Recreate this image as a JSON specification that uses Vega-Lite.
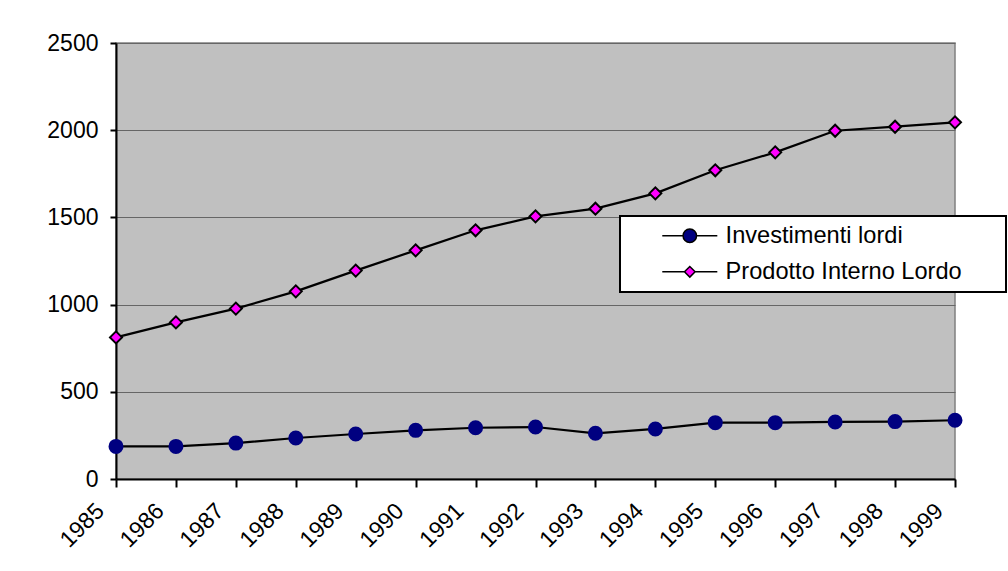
{
  "$schema": "https://vega.github.io/schema/vega-lite/v6.json",
  "width": 839,
  "height": 436,
  "autosize": "none",
  "padding": {"left": 116, "top": 43, "right": 53, "bottom": 92},
  "background": "white",
  "config": {
    "font": "Liberation Sans",
    "view": {"fill": "#C0C0C0", "stroke": "#808080", "strokeWidth": 1.5},
    "legend": {
      "title": null,
      "orient": "none",
      "legendX": 504,
      "legendY": 173,
      "fillColor": "white",
      "strokeColor": "black",
      "strokeWidth": 2,
      "padding": 8,
      "cornerRadius": 0,
      "labelFontSize": 23.6,
      "labelColor": "black",
      "labelLimit": 500,
      "symbolSize": 225,
      "symbolOffset": 50,
      "labelOffset": 24,
      "rowPadding": 11,
      "symbolOpacity": 1
    }
  },
  "data": {
    "values": [
      {"anno": "1985", "serie": "Investimenti lordi", "valore": 187},
      {"anno": "1986", "serie": "Investimenti lordi", "valore": 187},
      {"anno": "1987", "serie": "Investimenti lordi", "valore": 206},
      {"anno": "1988", "serie": "Investimenti lordi", "valore": 235},
      {"anno": "1989", "serie": "Investimenti lordi", "valore": 258},
      {"anno": "1990", "serie": "Investimenti lordi", "valore": 279},
      {"anno": "1991", "serie": "Investimenti lordi", "valore": 294},
      {"anno": "1992", "serie": "Investimenti lordi", "valore": 298},
      {"anno": "1993", "serie": "Investimenti lordi", "valore": 262},
      {"anno": "1994", "serie": "Investimenti lordi", "valore": 287},
      {"anno": "1995", "serie": "Investimenti lordi", "valore": 323},
      {"anno": "1996", "serie": "Investimenti lordi", "valore": 323},
      {"anno": "1997", "serie": "Investimenti lordi", "valore": 327},
      {"anno": "1998", "serie": "Investimenti lordi", "valore": 329},
      {"anno": "1999", "serie": "Investimenti lordi", "valore": 337},
      {"anno": "1985", "serie": "Prodotto Interno Lordo", "valore": 812},
      {"anno": "1986", "serie": "Prodotto Interno Lordo", "valore": 898},
      {"anno": "1987", "serie": "Prodotto Interno Lordo", "valore": 977},
      {"anno": "1988", "serie": "Prodotto Interno Lordo", "valore": 1076},
      {"anno": "1989", "serie": "Prodotto Interno Lordo", "valore": 1195},
      {"anno": "1990", "serie": "Prodotto Interno Lordo", "valore": 1311},
      {"anno": "1991", "serie": "Prodotto Interno Lordo", "valore": 1426},
      {"anno": "1992", "serie": "Prodotto Interno Lordo", "valore": 1506},
      {"anno": "1993", "serie": "Prodotto Interno Lordo", "valore": 1550},
      {"anno": "1994", "serie": "Prodotto Interno Lordo", "valore": 1638},
      {"anno": "1995", "serie": "Prodotto Interno Lordo", "valore": 1770},
      {"anno": "1996", "serie": "Prodotto Interno Lordo", "valore": 1873},
      {"anno": "1997", "serie": "Prodotto Interno Lordo", "valore": 1997},
      {"anno": "1998", "serie": "Prodotto Interno Lordo", "valore": 2020},
      {"anno": "1999", "serie": "Prodotto Interno Lordo", "valore": 2045}
    ]
  },
  "encoding": {
    "x": {
      "field": "anno",
      "type": "ordinal",
      "scale": {"type": "point", "padding": 0},
      "axis": {
        "title": null,
        "labelAngle": -45,
        "labelAlign": "right",
        "labelBaseline": "middle",
        "labelFontSize": 23,
        "labelColor": "black",
        "labelPadding": 20,
        "labelOffset": -16,
        "tickSize": 8,
        "tickWidth": 2,
        "tickColor": "black",
        "domainColor": "black",
        "domainWidth": 2,
        "grid": false
      }
    },
    "y": {
      "field": "valore",
      "type": "quantitative",
      "scale": {"domain": [0, 2500], "nice": false, "zero": true},
      "axis": {
        "title": null,
        "values": [0, 500, 1000, 1500, 2000, 2500],
        "format": "d",
        "labelFontSize": 23,
        "labelColor": "black",
        "labelPadding": 12,
        "tickSize": 6,
        "tickWidth": 2,
        "tickColor": "black",
        "domainColor": "black",
        "domainWidth": 2,
        "grid": true,
        "gridColor": "#666666",
        "gridWidth": 1.2
      }
    }
  },
  "layer": [
    {
      "mark": {"type": "line", "color": "black", "strokeWidth": 2.2},
      "encoding": {"detail": {"field": "serie"}}
    },
    {
      "transform": [{"filter": "datum.serie == 'Investimenti lordi'"}],
      "mark": {"type": "point", "shape": "circle", "size": 169, "filled": true, "fill": "#000080", "opacity": 1, "stroke": "#000080", "strokeWidth": 2},
      "encoding": {}
    },
    {
      "transform": [{"filter": "datum.serie == 'Prodotto Interno Lordo'"}],
      "mark": {"type": "point", "shape": "diamond", "size": 144, "filled": true, "fill": "#FF00FF", "opacity": 1, "stroke": "black", "strokeWidth": 2},
      "encoding": {}
    },
    {
      "mark": {"type": "point", "filled": true, "opacity": 0, "stroke": "black", "strokeWidth": 2},
      "encoding": {
        "fill": {
          "field": "serie",
          "type": "nominal",
          "scale": {"domain": ["Investimenti lordi", "Prodotto Interno Lordo"], "range": ["#000080", "#FF00FF"]},
          "legend": {"labelExpr": "datum.label + '\u2800\u2800'"}
        },
        "shape": {
          "field": "serie",
          "type": "nominal",
          "scale": {"domain": ["Investimenti lordi", "Prodotto Interno Lordo"], "range": ["M-3.67,0H-0.9M0.9,0H3.67M-0.9,0A0.9,0.9 0 1,1 0.9,0A0.9,0.9 0 1,1 -0.9,0Z", "M-3.67,0H-0.71M0.71,0H3.67M-0.71,0L0,-0.71L0.71,0L0,0.71Z"]},
          "legend": {"labelExpr": "datum.label + '\u2800\u2800'"}
        }
      }
    }
  ]
}
